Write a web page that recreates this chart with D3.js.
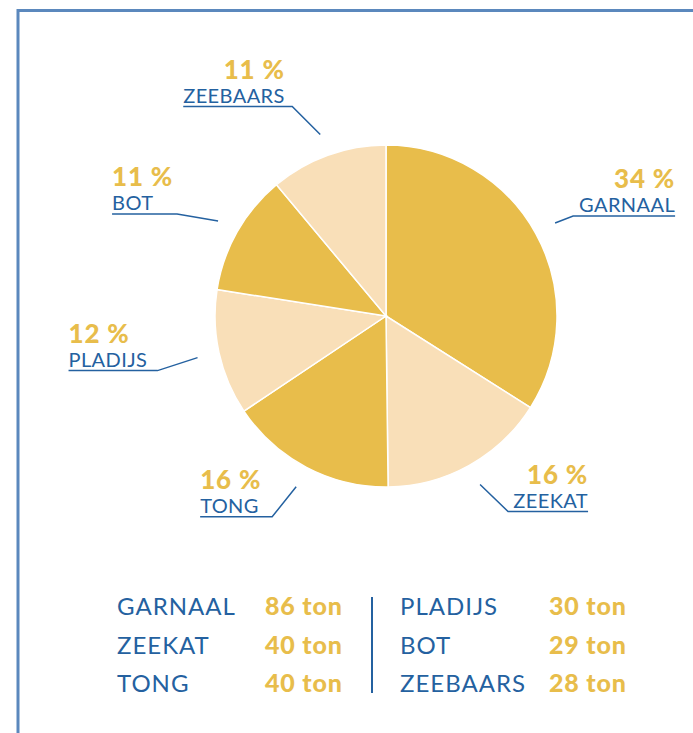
<!DOCTYPE html>
<html>
<head>
<meta charset="utf-8">
<script src="https://cdn.jsdelivr.net/npm/d3@7"></script>
<style>
  body { margin: 0; background: #fff; }
  svg { display: block; font-family: Lato, "Noto Sans", sans-serif; }
</style>
</head>
<body>
<div id="chart"></div>
<script>
// catch per soort, in ton
const categories = ["GARNAAL", "ZEEKAT", "TONG", "PLADIJS", "BOT", "ZEEBAARS"];
const tons = [86, 40, 40, 30, 29, 28];
const percentLabels = ["34 %", "16 %", "16 %", "12 %", "11 %", "11 %"];

const width = 693, height = 733;
const cx = 386, cy = 316, radius = 171;
const blue = "#2461a0";
const gold = "#e8bd4b";
const sliceColors = ["#e8bd4b", "#f9dfb8"];

// label placement: elbow offset from leader start, underline length and side
const labelLayout = [
  { dx: 18, dy: -7, len: 102, side: "right", pct: "end" },
  { dx: 28, dy: 27, len: 80, side: "right", pct: "end" },
  { dx: -24, dy: 30, len: 72, side: "left", pct: "start" },
  { dx: -40, dy: 13, len: 89, side: "left", pct: "start" },
  { dx: -41, dy: -7, len: 65, side: "left", pct: "start" },
  { dx: -28, dy: -28, len: 109, side: "left", pct: "nameEnd" }
];

const svg = d3.select("#chart")
  .append("svg")
  .attr("width", width)
  .attr("height", height);

// frame
svg.append("rect")
  .attr("x", 18)
  .attr("y", 10.5)
  .attr("width", 720)
  .attr("height", 760)
  .attr("fill", "none")
  .attr("stroke", "#5b88bd")
  .attr("stroke-width", 3);

const pie = d3.pie().sort(null).value(d => d)(tons);
const arc = d3.arc().innerRadius(0).outerRadius(radius);

const g = svg.append("g").attr("transform", `translate(${cx},${cy})`);

g.selectAll("path")
  .data(pie)
  .join("path")
  .attr("d", arc)
  .attr("fill", (d, i) => sliceColors[i % 2])
  .attr("stroke", "#fff")
  .attr("stroke-width", 1.5);

// labels with leader lines
const outer = d3.arc().innerRadius(193).outerRadius(193);

pie.forEach((d, i) => {
  const L = labelLayout[i];
  const [px, py] = outer.centroid(d);
  const x0 = cx + px, y0 = cy + py;
  const ex = x0 + L.dx, ey = y0 + L.dy;
  const endX = L.side === "right" ? ex + L.len : ex - L.len;

  svg.append("path")
    .attr("d", `M${x0},${y0}L${ex},${ey}L${endX},${ey}`)
    .attr("fill", "none")
    .attr("stroke", blue)
    .attr("stroke-width", 1.5);

  const anchor = L.side === "right" ? "end" : "start";

  const name = svg.append("text")
    .attr("x", endX)
    .attr("y", ey - 4)
    .attr("text-anchor", anchor)
    .attr("fill", blue)
    .attr("font-size", 20)
    .attr("letter-spacing", 0.4)
    .text(categories[i]);

  let pctX = endX, pctAnchor = anchor;
  if (L.pct === "nameEnd") {
    pctX = endX + name.node().getComputedTextLength();
    pctAnchor = "end";
  }

  svg.append("text")
    .attr("x", pctX)
    .attr("y", ey - 28)
    .attr("text-anchor", pctAnchor)
    .attr("fill", gold)
    .attr("font-size", 26)
    .attr("font-weight", 900)
    .attr("letter-spacing", 0.8)
    .text(percentLabels[i]);
});

// table below the pie
const rowY = d3.scalePoint().domain([0, 1, 2]).range([615, 692]);
const colX = [{ name: 117, val: 265 }, { name: 400, val: 549 }];

categories.forEach((c, i) => {
  const col = colX[Math.floor(i / 3)];
  const y = rowY(i % 3);
  svg.append("text")
    .attr("x", col.name)
    .attr("y", y)
    .attr("fill", blue)
    .attr("font-size", 24)
    .attr("letter-spacing", 1)
    .text(c);
  svg.append("text")
    .attr("x", col.val)
    .attr("y", y)
    .attr("fill", gold)
    .attr("font-size", 25)
    .attr("font-weight", 900)
    .attr("letter-spacing", 0.8)
    .text(tons[i] + " ton");
});

svg.append("line")
  .attr("x1", 372).attr("x2", 372)
  .attr("y1", 597).attr("y2", 693)
  .attr("stroke", blue)
  .attr("stroke-width", 2);
</script>
</body>
</html>
